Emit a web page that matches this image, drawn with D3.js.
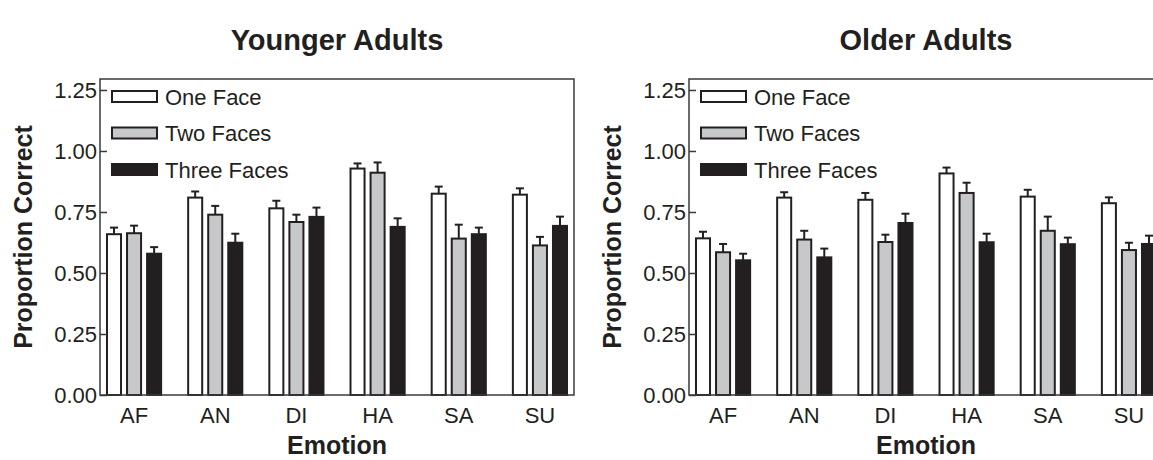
<!DOCTYPE html>
<html>
<head>
<meta charset="utf-8">
<script src="https://cdn.jsdelivr.net/npm/d3@7"></script>
<style>
  body { margin: 0; background: #fff; }
  svg { display: block; font-family: "Liberation Sans", Arial, sans-serif; }
</style>
</head>
<body>
<svg width="1153" height="460"></svg>
<script>
// data
const emotions = ['AF', 'AN', 'DI', 'HA', 'SA', 'SU']
const series = ['One Face', 'Two Faces', 'Three Faces']
const yTicks = [0, 0.25, 0.5, 0.75, 1.0, 1.25]

const youngOne   = [0.659, 0.809, 0.765, 0.928, 0.825, 0.821]
const youngTwo   = [0.663, 0.739, 0.709, 0.911, 0.641, 0.613]
const youngThree = [0.579, 0.624, 0.730, 0.689, 0.659, 0.693]
const youngErrOne   = [0.027, 0.025, 0.031, 0.021, 0.029, 0.026]
const youngErrTwo   = [0.031, 0.036, 0.030, 0.042, 0.057, 0.035]
const youngErrThree = [0.027, 0.037, 0.038, 0.035, 0.027, 0.038]

const oldOne   = [0.642, 0.809, 0.800, 0.908, 0.813, 0.786]
const oldTwo   = [0.585, 0.637, 0.627, 0.828, 0.673, 0.594]
const oldThree = [0.552, 0.564, 0.705, 0.626, 0.618, 0.619]
const oldErrOne   = [0.027, 0.022, 0.028, 0.024, 0.028, 0.024]
const oldErrTwo   = [0.034, 0.036, 0.030, 0.042, 0.058, 0.030]
const oldErrThree = [0.027, 0.036, 0.038, 0.035, 0.027, 0.034]

const fills = ['#ffffff', '#c7c8ca', '#231f20']
const ink = '#231f20'

const svg = d3.select('svg')

function panel(left, title, vals, errs) {
    const margin = {top: 79, left: left},
        width = 474,
        height = 316
    const g = svg.append('g')
        .attr('transform', `translate(${margin.left}, ${margin.top})`)

    const x0 = d3.scaleBand().domain(emotions).range([0, width])
        .paddingInner(0.333).paddingOuter(0.086)
    const x1 = d3.scaleBand().domain(series).range([0, x0.bandwidth()])
        .paddingInner(0.3)
    const y = d3.scaleLinear().domain([0, 1.295]).range([height, 0])

    const rows = []
    emotions.forEach((e, i) => {
        series.forEach((s, j) => {
            rows.push({emotion: e, series: s, idx: j, v: vals[j][i], err: errs[j][i]})
        })
    })

    // error bars (upper only)
    const eb = g.selectAll('.err').data(rows).enter().append('g').attr('class', 'err')
        .attr('stroke', ink).attr('stroke-width', 2)
    eb.append('line')
        .attr('x1', d => x0(d.emotion) + x1(d.series) + x1.bandwidth() / 2)
        .attr('x2', d => x0(d.emotion) + x1(d.series) + x1.bandwidth() / 2)
        .attr('y1', d => y(d.v))
        .attr('y2', d => y(d.v + d.err))
    eb.append('line')
        .attr('x1', d => x0(d.emotion) + x1(d.series) + x1.bandwidth() / 2 - 4)
        .attr('x2', d => x0(d.emotion) + x1(d.series) + x1.bandwidth() / 2 + 4)
        .attr('y1', d => y(d.v + d.err))
        .attr('y2', d => y(d.v + d.err))

    g.selectAll('.bar').data(rows).enter().append('rect')
        .attr('class', 'bar')
        .attr('x', d => x0(d.emotion) + x1(d.series))
        .attr('y', d => y(d.v))
        .attr('width', x1.bandwidth())
        .attr('height', d => height - y(d.v))
        .attr('fill', d => fills[d.idx])
        .attr('stroke', ink)
        .attr('stroke-width', 2)

    // frame
    g.append('rect')
        .attr('width', width).attr('height', height)
        .attr('fill', 'none').attr('stroke', '#3a3a3a').attr('stroke-width', 1.5)

    // y axis, ticks pointing inward
    const ya = g.append('g')
        .attr('class', 'axis axis-y')
        .call(d3.axisLeft(y).tickValues(yTicks).tickFormat(d3.format('.2f')).tickSize(-7).tickPadding(3))
    ya.select('.domain').remove()
    ya.selectAll('line').attr('stroke', '#3a3a3a').attr('stroke-width', 1.5)
    ya.selectAll('text').attr('font-size', 22).attr('fill', ink)
        .attr('font-family', '"Liberation Sans", Arial, sans-serif')

    // x axis, labels only
    const xa = g.append('g')
        .attr('class', 'axis axis-x')
        .attr('transform', `translate(0, ${height})`)
        .call(d3.axisBottom(x0).tickSize(0).tickPadding(12))
    xa.select('.domain').remove()
    xa.selectAll('text').attr('font-size', 22).attr('fill', ink)
        .attr('font-family', '"Liberation Sans", Arial, sans-serif')

    g.append('text')
        .attr('x', width / 2).attr('y', height + 59)
        .attr('text-anchor', 'middle')
        .attr('font-size', 25).attr('font-weight', 'bold').attr('fill', ink)
        .text('Emotion')

    g.append('text')
        .attr('transform', `translate(-68, ${height / 2}) rotate(-90)`)
        .attr('text-anchor', 'middle')
        .attr('font-size', 25).attr('font-weight', 'bold').attr('fill', ink)
        .text('Proportion Correct')

    g.append('text')
        .attr('x', width / 2).attr('y', -29)
        .attr('text-anchor', 'middle')
        .attr('font-size', 29).attr('font-weight', 'bold').attr('fill', ink)
        .text(title)

    // legend
    const lg = g.selectAll('.legend').data(series).enter().append('g')
        .attr('class', 'legend')
        .attr('transform', (d, i) => `translate(12, ${17.5 + i * 36.5})`)
    lg.append('rect')
        .attr('x', 0).attr('y', -5.5).attr('width', 45).attr('height', 11)
        .attr('fill', (d, i) => fills[i]).attr('stroke', ink).attr('stroke-width', 2)
    lg.append('text')
        .attr('x', 53).attr('y', 8)
        .attr('font-size', 22).attr('fill', ink)
        .text(d => d)
}

panel(100, 'Younger Adults', [youngOne, youngTwo, youngThree], [youngErrOne, youngErrTwo, youngErrThree])
panel(689, 'Older Adults', [oldOne, oldTwo, oldThree], [oldErrOne, oldErrTwo, oldErrThree])
</script>
</body>
</html>
